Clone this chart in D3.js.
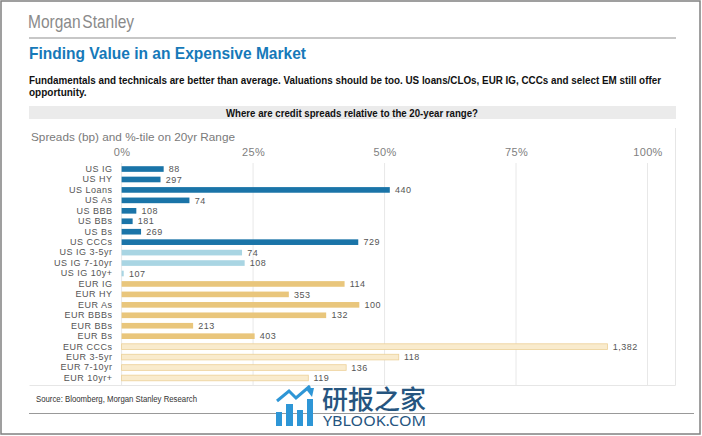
<!DOCTYPE html>
<html><head><meta charset="utf-8">
<script src="https://cdnjs.cloudflare.com/ajax/libs/d3/7.8.5/d3.min.js"></script>
<style>
html,body{margin:0;padding:0;background:#fff}
svg{display:block}
text{font-family:"Liberation Sans",Arial,sans-serif}
</style></head><body><svg id="c" width="702" height="436"></svg>
<script>
const categories=["US IG","US HY","US Loans","US As","US BBB","US BBs","US Bs","US CCCs","US IG 3-5yr","US IG 7-10yr","US IG 10y+","EUR IG","EUR HY","EUR As","EUR BBBs","EUR BBs","EUR Bs","EUR CCCs","EUR 3-5yr","EUR 7-10yr","EUR 10yr+"];
const percentiles=[8,7.4,51,12.9,2.8,2.1,3.7,45,22.9,23.4,0.4,42.4,31.8,45.2,38.9,13.6,25.3,92.4,52.7,42.7,35.5];
const spreads=["88","297","440","74","108","181","269","729","74","108","107","114","353","100","132","213","403","1,382","118","136","119"];
const groups=["us","us","us","us","us","us","us","us","usm","usm","usm","eur","eur","eur","eur","eur","eur","eurm","eurm","eurm","eurm"];
const ticks=[0,25,50,75,100];
const groupColors={us:"#1a74a8",usm:"#a9d5e3",eur:"#e9c67c",eurm:"#f9ebcd"};

const svg=d3.select("#c");
// frame
svg.append("rect").attr("x",1).attr("y",1).attr("width",699).attr("height",433).attr("fill","none").attr("stroke","#808080").attr("stroke-width",1.5);
// header
svg.append("text").attr("x",28).attr("y",27.5).attr("font-size",18.5).attr("fill","#8a8a8a").attr("font-family","Inter, 'Open Sans', sans-serif").attr("font-weight",300).attr("word-spacing",-3).attr("textLength",106).attr("lengthAdjust","spacingAndGlyphs").text("Morgan Stanley");
svg.append("line").attr("x1",29).attr("x2",676).attr("y1",38).attr("y2",38).attr("stroke","#b5b5b5").attr("stroke-width",1.5);
svg.append("text").attr("x",29).attr("y",59).attr("font-size",16.5).attr("font-weight",700).attr("fill","#1679b9").attr("textLength",277).attr("lengthAdjust","spacingAndGlyphs").text("Finding Value in an Expensive Market");
svg.append("text").attr("x",29).attr("y",84).attr("font-size",10).attr("font-weight",700).attr("fill","#111").attr("textLength",632).attr("lengthAdjust","spacingAndGlyphs").text("Fundamentals and technicals are better than average. Valuations should be too. US loans/CLOs, EUR IG, CCCs and select EM still offer");
svg.append("text").attr("x",29).attr("y",96).attr("font-size",10).attr("font-weight",700).attr("fill","#111").text("opportunity.");
svg.append("rect").attr("x",29).attr("y",106).attr("width",647).attr("height",13).attr("fill","#ebebeb");
svg.append("text").attr("x",226).attr("y",116.5).attr("font-size",10).attr("font-weight",700).attr("fill","#111").attr("textLength",252).attr("lengthAdjust","spacingAndGlyphs").text("Where are credit spreads relative to the 20-year range?");
// chart box
svg.append("path").attr("d","M29.5,385.5H675.5V128").attr("fill","none").attr("stroke","#e6e6e6");
svg.append("text").attr("x",31).attr("y",141).attr("font-size",10.5).attr("fill","#7a7a7a").attr("textLength",204).attr("lengthAdjust","spacingAndGlyphs").text("Spreads (bp) and %-tile on 20yr Range");

const x=d3.scaleLinear().domain([0,100]).range([121.6,647.5]);
const y=d3.scaleBand().domain(categories).range([163.8,383.2]).paddingInner(0.46).paddingOuter(0.23);
const axis=d3.axisTop(x).tickValues(ticks).tickFormat(d=>d+"%").tickSize(0).tickPadding(0);
const gx=svg.append("g").attr("transform","translate(0,156)").call(axis);
gx.select(".domain").remove();
gx.selectAll("text").attr("font-size",11).attr("fill","#808080").attr("style","font-family:'Liberation Sans',Arial,sans-serif;letter-spacing:.3px");
svg.append("g").selectAll("line").data(ticks).join("line").attr("x1",d=>x(d)).attr("x2",d=>x(d)).attr("y1",163).attr("y2",385).attr("stroke","#e8e8e8");

const axisY=d3.axisLeft(y).tickSize(0).tickPadding(9);
const gy=svg.append("g").attr("transform","translate(121.6,0)").call(axisY);
gy.select(".domain").remove();
gy.selectAll("text").attr("font-size",9).attr("fill","#555").attr("style","font-family:'Liberation Sans',Arial,sans-serif;letter-spacing:.5px");

const rows=categories.map((c,i)=>({c,p:percentiles[i],s:spreads[i],g:groups[i]}));
svg.append("g").selectAll("rect").data(rows).join("rect")
 .attr("x",x(0)).attr("y",d=>y(d.c)).attr("width",d=>x(d.p)-x(0)).attr("height",y.bandwidth())
 .attr("fill",d=>groupColors[d.g]).attr("stroke",d=>d.g==="eurm"?"#ecd097":"none").attr("stroke-width",.8);
svg.append("g").selectAll("text").data(rows).join("text")
 .attr("x",d=>x(d.p)+5.2).attr("y",d=>y(d.c)+y.bandwidth()/2+3.2).attr("font-size",9).attr("fill","#555").attr("letter-spacing",.5).text(d=>d.s);

// footer
svg.append("text").attr("x",36).attr("y",402).attr("font-size",8.4).attr("fill","#333").attr("textLength",161).attr("lengthAdjust","spacingAndGlyphs").text("Source: Bloomberg, Morgan Stanley Research");
svg.append("line").attr("x1",29).attr("x2",694).attr("y1",413.5).attr("y2",413.5).attr("stroke","#999");

// watermark
const wm=svg.append("g");
wm.append("path").attr("d","M277,401L289,391L296,398L310,386").attr("fill","none").attr("stroke","#2e96d6").attr("stroke-width",3);
wm.append("path").attr("d","M305,388L314,388L312,397Z").attr("fill","#2e96d6");
[[276,412,6,14],[286,404,7,22],[297,410,6,16],[307,399,6,27]].forEach(r=>wm.append("rect").attr("x",r[0]).attr("y",r[1]).attr("width",r[2]).attr("height",r[3]).attr("fill","#2e96d6"));
wm.append("text").attr("x",322).attr("y",408.5).attr("font-size",26).attr("font-weight",500).attr("fill","#26557f").attr("style","font-family:'Noto Sans CJK SC'").text("研报之家");
wm.append("text").attr("x",323).attr("y",426).attr("font-size",14).attr("fill","#26557f").attr("textLength",103).attr("lengthAdjust","spacingAndGlyphs").attr("style","font-family:'Noto Sans'").text("YBLOOK.COM");
</script></body></html>
